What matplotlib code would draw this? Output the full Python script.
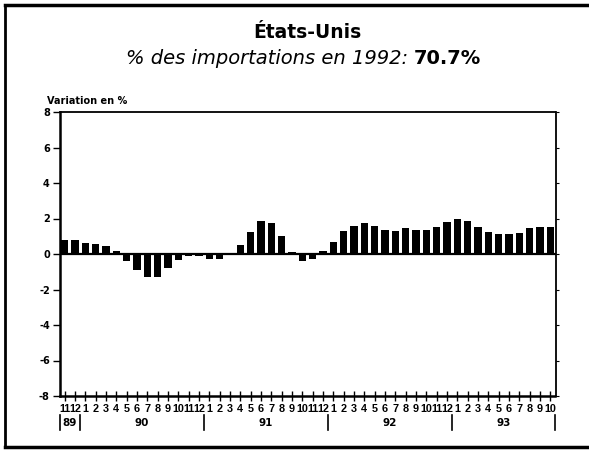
import matplotlib
matplotlib.use("Agg")
import matplotlib.pyplot as plt
from matplotlib.lines import Line2D
import numpy as np

# Monthly change in %, Nov 1989 .. Oct 1993
months = ['11', '12',
          '1', '2', '3', '4', '5', '6', '7', '8', '9', '10', '11', '12',
          '1', '2', '3', '4', '5', '6', '7', '8', '9', '10', '11', '12',
          '1', '2', '3', '4', '5', '6', '7', '8', '9', '10', '11', '12',
          '1', '2', '3', '4', '5', '6', '7', '8', '9', '10']
values = [0.80, 0.79,
          0.62, 0.55, 0.45, 0.15, -0.41, -0.88, -1.30, -1.30, -0.79, -0.32, -0.13, -0.09,
          -0.26, -0.28, -0.05, 0.53, 1.26, 1.84, 1.77, 1.00, 0.11, -0.41, -0.28, 0.15,
          0.66, 1.28, 1.60, 1.73, 1.56, 1.35, 1.31, 1.46, 1.37, 1.37, 1.50, 1.78,
          1.95, 1.84, 1.50, 1.26, 1.10, 1.13, 1.18, 1.46, 1.54, 1.50]
years = ['89', '90', '91', '92', '93']
months_per_year = [2, 12, 12, 12, 10]
y_ticks = [-8, -6, -4, -2, 0, 2, 4, 6, 8]

plt.rcParams['font.family'] = ['DejaVu Sans']
narrow = ['Liberation Sans Narrow', 'Liberation Sans', 'DejaVu Sans']

fig = plt.figure(figsize=(5.89, 4.51), dpi=100)
ax = fig.add_axes([59.5 / 589, 1 - 396 / 451, (555.5 - 59.5) / 589, (396 - 112) / 451])

x = np.arange(len(values))
ax.bar(x, values, width=0.72, color='black', zorder=3)
ax.axhline(0, color='black', lw=1.6, zorder=4)

ax.set_xlim(-0.5, len(values) - 0.5)
ax.set_ylim(-8, 8)
ax.set_yticks(y_ticks)
ax.set_yticklabels([str(v) for v in y_ticks], fontsize=7, fontweight='bold')
ax.tick_params(axis='y', which='both', left=True, right=True, labelright=False,
               direction='out', width=1.0, pad=2)
ax.yaxis.set_tick_params(which='major', length=5)
for t in ax.yaxis.get_major_ticks():
    t.tick2line.set_markersize(2)
    t.tick2line.set_markeredgewidth(0.8)

ax.set_xticks(x)
ax.set_xticklabels(months, fontsize=7.8, fontweight='bold', family=narrow)
ax.tick_params(axis='x', direction='inout', length=7, width=1, pad=2)

for side in ['left', 'bottom']:
    ax.spines[side].set_linewidth(1.8)
for side in ['top', 'right']:
    ax.spines[side].set_linewidth(1.3)

# year labels with separators below the month labels
trans = ax.get_xaxis_transform()
bounds = np.concatenate([[0], np.cumsum(months_per_year)]) - 0.5
for b in bounds:
    ax.plot([b, b], [-0.068, -0.12], color='black', lw=1.2,
            transform=trans, clip_on=False)
for i, yr in enumerate(years):
    mid = (bounds[i] + bounds[i + 1]) / 2
    ax.text(mid, -0.095, yr, transform=trans, ha='center', va='center',
            fontsize=7.5, fontweight='bold')

fig.text(47 / 589, 1 - 101 / 451, 'Variation en %', fontsize=7,
         fontweight='bold', ha='left', va='center')

fig.text(307 / 589, 1 - 33 / 451, 'États-Unis', fontsize=13.5, fontweight='bold',
         ha='center', va='center')
sub_a = fig.text(0.5, 1 - 58 / 451, '% des importations en 1992: ',
                 fontsize=14, style='italic', ha='center', va='center')
sub_b = fig.text(0.5, 1 - 58 / 451, '70.7%', fontsize=14, fontweight='bold',
                 ha='left', va='center')

# place the two subtitle parts side by side, centred as a whole
fig.canvas.draw()
r = fig.canvas.get_renderer()
wa = sub_a.get_window_extent(r).width / fig.bbox.width
wb = sub_b.get_window_extent(r).width / fig.bbox.width
left = (109 + 498) / 2 / 589 - (wa + wb) / 2
sub_a.set_ha('left')
sub_a.set_x(left)
sub_b.set_x(left + wa)

# outer frame (left, top, bottom)
fig.add_artist(Line2D([4.5 / 589, 4.5 / 589], [1 - 4.5 / 451, 1 - 447 / 451],
                      color='black', lw=2, transform=fig.transFigure))
fig.add_artist(Line2D([4.5 / 589, 1], [1 - 4.5 / 451, 1 - 4.5 / 451],
                      color='black', lw=2.5, transform=fig.transFigure))
fig.add_artist(Line2D([4.5 / 589, 1], [1 - 447 / 451, 1 - 447 / 451],
                      color='black', lw=2.5, transform=fig.transFigure))

fig.savefig('out.png', dpi=100, facecolor='white')
